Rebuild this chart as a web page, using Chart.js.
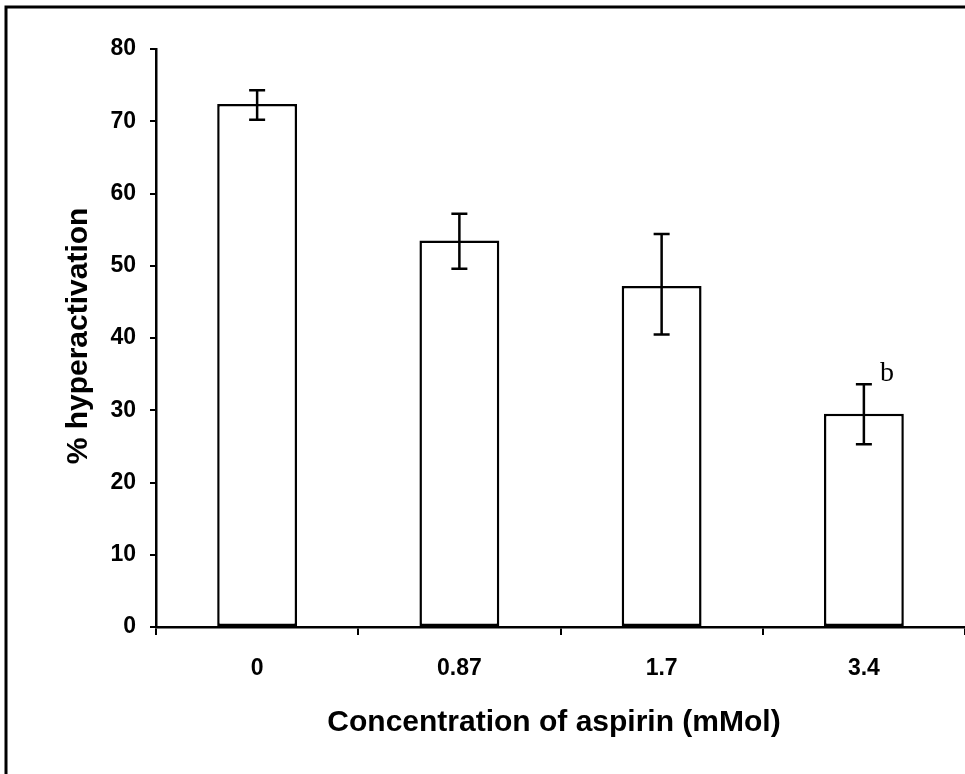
<!DOCTYPE html>
<html>
<head>
<meta charset="utf-8">
<script src="https://cdn.jsdelivr.net/npm/chart.js@4.4.1/dist/chart.umd.min.js"></script>
<style>
  html, body { margin: 0; padding: 0; background: #fff; }
  #wrap { position: relative; width: 965px; height: 774px; }
</style>
</head>
<body>
<div id="wrap"><canvas id="c" width="965" height="774"></canvas></div>
<script>
const categories = ["0", "0.87", "1.7", "3.4"];
const hyperactivation = [72.4, 53.5, 47.2, 29.5];
const errLow = [70.2, 49.6, 40.5, 25.3];
const errHigh = [74.3, 57.2, 54.4, 33.6];
const annotations = ["", "", "", "b"];
const yTicks = [0, 10, 20, 30, 40, 50, 60, 70, 80];
const xTitle = "Concentration of aspirin (mMol)";
const yTitle = "% hyperactivation";

const FONT = "'Liberation Sans', Arial, sans-serif";

const decor = {
  id: 'decor',
  beforeDraw(chart) {
    const ctx = chart.ctx;
    ctx.save();
    ctx.fillStyle = '#fff';
    ctx.fillRect(0, 0, chart.width, chart.height);
    ctx.strokeStyle = '#000';
    ctx.lineWidth = 3;
    ctx.beginPath();
    ctx.moveTo(6, 774);
    ctx.lineTo(6, 7);
    ctx.lineTo(965, 7);
    ctx.stroke();
    ctx.restore();
  },
  afterDatasetsDraw(chart) {
    const ctx = chart.ctx;
    const meta = chart.getDatasetMeta(0);
    const ys = chart.scales.y;
    ctx.save();
    ctx.strokeStyle = '#000';
    ctx.lineWidth = 2.5;
    meta.data.forEach((bar, i) => {
      const x = bar.x;
      const yl = ys.getPixelForValue(errLow[i]);
      const yh = ys.getPixelForValue(errHigh[i]);
      ctx.beginPath();
      ctx.moveTo(x, yl); ctx.lineTo(x, yh);
      ctx.moveTo(x - 8, yl); ctx.lineTo(x + 8, yl);
      ctx.moveTo(x - 8, yh); ctx.lineTo(x + 8, yh);
      ctx.stroke();
      if (annotations[i]) {
        ctx.fillStyle = '#000';
        ctx.font = "28px 'Liberation Serif', 'DejaVu Serif', serif";
        ctx.textAlign = 'left';
        ctx.textBaseline = 'alphabetic';
        ctx.fillText(annotations[i], x + 16, yh - 3);
      }
    });
    ctx.restore();
  },
  afterDraw(chart) {
    const ctx = chart.ctx;
    ctx.save();
    ctx.fillStyle = '#000';
    ctx.font = "bold 30px " + FONT;
    ctx.textAlign = 'center';
    ctx.textBaseline = 'alphabetic';
    ctx.fillText(xTitle, 554, 731);
    ctx.translate(87, 336);
    ctx.rotate(-Math.PI / 2);
    ctx.fillText(yTitle, 0, 0);
    ctx.restore();
  }
};

new Chart(document.getElementById('c'), {
  type: 'bar',
  data: {
    labels: categories,
    datasets: [{
      data: hyperactivation,
      backgroundColor: '#fff',
      borderColor: '#000',
      borderWidth: 2.5,
      borderSkipped: false,
      barPercentage: 0.395,
      categoryPercentage: 1.0
    }]
  },
  options: {
    responsive: false,
    animation: false,
    devicePixelRatio: 1,
    layout: { padding: { top: 49, right: 0, bottom: 0, left: 0 } },
    plugins: { legend: { display: false }, tooltip: { enabled: false } },
    scales: {
      x: {
        afterFit(s) { s.height = 147; },
        grid: { offset: true, drawOnChartArea: false, drawTicks: true, tickLength: 8, color: '#000', lineWidth: 2 },
        border: { display: true, color: '#000', width: 2.5 },
        ticks: { color: '#000', padding: 20, font: { family: FONT, size: 23, weight: 'bold' } }
      },
      y: {
        min: 0, max: 80,
        afterFit(s) { s.width = 156; },
        afterBuildTicks(s) { s.ticks = yTicks.map(v => ({ value: v })); },
        grid: { drawOnChartArea: false, drawTicks: true, tickLength: 6, color: '#000', lineWidth: 2 },
        border: { display: true, color: '#000', width: 2.5 },
        ticks: { color: '#000', padding: 14, font: { family: FONT, size: 23, weight: 'bold' } }
      }
    }
  },
  plugins: [decor]
});
</script>
</body>
</html>
